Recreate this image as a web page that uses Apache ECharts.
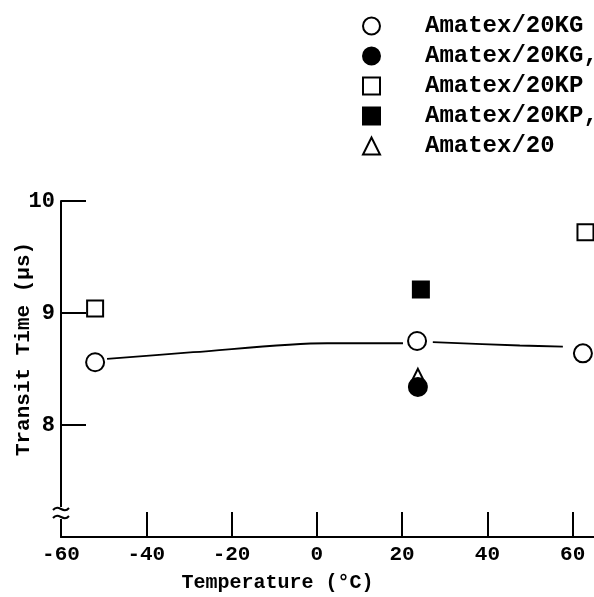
<!DOCTYPE html>
<html>
<head>
<meta charset="utf-8">
<script src="https://cdn.jsdelivr.net/npm/echarts@6/dist/echarts.min.js"></script>
<style>
	html, body { margin: 0; padding: 0; background: #fff; }
	#chart { width: 594px; height: 597px; }
</style>
</head>
<body>
<div id="chart"></div>
<script>
	// 数据
	var kgOpen = [[-52.0, 8.56], [23.5, 8.75], [62.4, 8.64]];
	var kgFilled = [[23.7, 8.34]];
	var kpOpen = [[-52.0, 9.04], [63.0, 9.72]];
	var kpFilled = [[24.4, 9.21]];
	var plain20 = [[23.7, 8.43]];
	// 拟合曲线（中间圆圈处断开）
	var fitCurve = [[-49.2, 8.59], [-29.0, 8.65], [2.4, 8.73], [20.2, 8.73], '-', [27.2, 8.74], [47.6, 8.71], [57.7, 8.70]];
	var legendNames = ['Amatex/20KG', 'Amatex/20KG,', 'Amatex/20KP', 'Amatex/20KP,', 'Amatex/20'];
	var xTicks = [-60, -40, -20, 0, 20, 40, 60];
	var yTicks = [8, 9, 10];

	var font = '"Liberation Mono", "DejaVu Sans Mono", monospace';
	var myChart = echarts.init(document.getElementById('chart'));

	function pointSeries(name, data, symbol, size, filled) {
		return {
			name: name,
			type: 'scatter',
			data: data,
			symbol: symbol,
			symbolSize: size,
			z: 5,
			itemStyle: {
				color: filled ? '#000' : '#fff',
				borderColor: '#000',
				borderWidth: 2,
				opacity: 1
			}
		};
	}

	myChart.setOption({
		animation: false,
		grid: { left: 61, right: 0, top: 201, bottom: 60, outerBoundsMode: 'none', containLabel: false },
		legend: {
			data: legendNames,
			orient: 'vertical',
			left: 357,
			top: 9,
			itemWidth: 17,
			itemHeight: 17,
			itemGap: 6,
			selectedMode: false,
			textStyle: {
				fontFamily: font,
				fontWeight: 'bold',
				fontSize: 24,
				color: '#000',
				lineHeight: 17,
				padding: [0, 0, 0, 40]
			}
		},
		xAxis: {
			type: 'value',
			min: -60,
			max: 65,
			name: 'Temperature (°C)',
			nameLocation: 'middle',
			nameGap: 36,
			nameMoveOverlap: false,
			nameTextStyle: {
				fontFamily: font, fontWeight: 'bold', fontSize: 20, color: '#000',
				padding: [0, 100, 0, 0]
			},
			splitLine: { show: false },
			axisLine: { onZero: false, lineStyle: { color: '#000', width: 2 } },
			axisTick: { inside: true, length: 25, customValues: xTicks, lineStyle: { color: '#000', width: 2 } },
			axisLabel: {
				fontFamily: font, fontWeight: 'bold', fontSize: 21, color: '#000', margin: 7,
				customValues: xTicks
			}
		},
		yAxis: {
			type: 'value',
			min: 7,
			max: 10,
			name: 'Transit Time (µs)',
			nameLocation: 'middle',
			nameGap: 27,
			nameMoveOverlap: false,
			nameTextStyle: {
				fontFamily: font, fontWeight: 'bold', fontSize: 21, color: '#000',
				padding: [0, 0, 0, 40]
			},
			splitLine: { show: false },
			axisLine: { onZero: false, lineStyle: { color: '#000', width: 2 } },
			axisTick: { inside: true, length: 25, customValues: yTicks, lineStyle: { color: '#000', width: 2 } },
			axisLabel: {
				fontFamily: font, fontWeight: 'bold', fontSize: 22, color: '#000', margin: 6,
				customValues: yTicks
			}
		},
		// 纵轴断裂符号
		graphic: [
			{ type: 'rect', shape: { x: 55, y: 507, width: 12, height: 12 }, style: { fill: '#fff' }, z: 10 },
			{ type: 'bezierCurve', shape: { x1: 53, y1: 510, x2: 69, y2: 508, cpx1: 59, cpy1: 503, cpx2: 63, cpy2: 515 }, style: { stroke: '#000', lineWidth: 2, fill: null }, z: 11 },
			{ type: 'bezierCurve', shape: { x1: 53, y1: 518, x2: 69, y2: 516, cpx1: 59, cpy1: 511, cpx2: 63, cpy2: 523 }, style: { stroke: '#000', lineWidth: 2, fill: null }, z: 11 }
		],
		series: [
			{
				name: 'fit',
				type: 'line',
				data: fitCurve,
				smooth: 0.3,
				showSymbol: false,
				connectNulls: false,
				z: 2,
				lineStyle: { color: '#000', width: 1.8 }
			},
			pointSeries(legendNames[4], plain20, 'triangle', 16, false),
			pointSeries(legendNames[0], kgOpen, 'circle', 18, false),
			pointSeries(legendNames[1], kgFilled, 'circle', 18, true),
			pointSeries(legendNames[2], kpOpen, 'rect', 16, false),
			pointSeries(legendNames[3], kpFilled, 'rect', 16, true)
		]
	});
</script>
</body>
</html>
